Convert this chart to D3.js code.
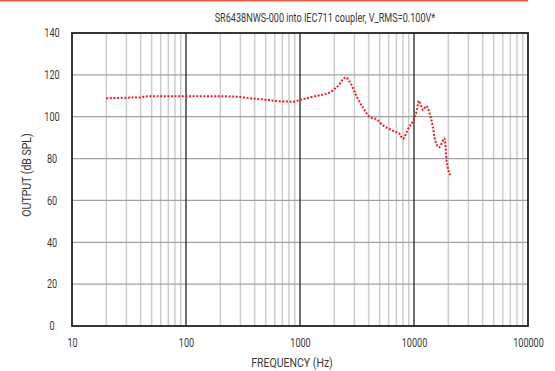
<!DOCTYPE html>
<html>
<head>
<meta charset="utf-8">
<script src="https://cdn.jsdelivr.net/npm/d3@7"></script>
<style>
  html, body { margin: 0; padding: 0; background: #fff; }
  svg { display: block; }
  text { font-family: "Roboto", "Liberation Sans", sans-serif; fill: #3a3a3a; }
</style>
</head>
<body>
<svg id="chart" width="555" height="371"></svg>
<script>
// Frequency response (Hz -> dB SPL)
const freqs = [20, 30, 40, 44, 60, 100, 150, 243, 400, 600, 668, 870, 1000, 1300, 1830, 2150, 2520, 2730, 3150, 3600, 4120, 4700, 5400, 6600, 7500, 8000, 8900, 9900, 10600, 11000, 11500, 12000, 12800, 13700, 14600, 15300, 16600, 17500, 18400, 18800, 19300, 20800];
const spl   = [108.8, 109.1, 109.2, 109.7, 109.8, 109.8, 109.8, 109.7, 108.6, 107.6, 107.3, 107.2, 108.0, 109.6, 111.7, 114.7, 118.8, 116.7, 109.6, 104.0, 99.7, 98.7, 95.7, 93.2, 91.7, 89.4, 94.4, 98.4, 103.2, 107.6, 105.6, 103.2, 105.1, 101.6, 95.4, 88.9, 85.4, 87.3, 89.7, 87.3, 79.3, 72.1];

const xTicks = [10, 100, 1000, 10000, 100000];
const yTicks = [0, 20, 40, 60, 80, 100, 120, 140];
const title = "SR6438NWS-000 into IEC711 coupler, V_RMS=0.100V*";
const xTitle = "FREQUENCY (Hz)";
const yTitle = "OUTPUT (dB SPL)";

const svg = d3.select("#chart");
const m = { left: 72, right: 528, top: 33, bottom: 326 };

// squeeze a text element horizontally about its own anchor point
function condense(sel, k = 0.76) {
  sel.each(function () {
    const t = d3.select(this);
    const ax = +(t.attr("x") || 0), ay = +(t.attr("y") || 0);
    const prev = t.attr("transform") || "";
    t.attr("transform", `${prev} translate(${ax},${ay}) scale(${k},1) translate(${-ax},${-ay})`);
  });
}

const x = d3.scaleLog().domain([10, 100000]).range([m.left, m.right]);
const y = d3.scaleLinear().domain([0, 140]).range([m.bottom, m.top]);

// accent rule across the top
svg.append("line")
  .attr("x1", 0).attr("x2", 528).attr("y1", 0.5).attr("y2", 0.5)
  .attr("stroke", "#e0603e").attr("stroke-width", 2);

// minor vertical grid (2..9 in each decade)
const minor = [];
for (let d = 10; d < 100000; d *= 10) for (let k = 2; k <= 9; k++) minor.push(d * k);
svg.append("g").selectAll("line").data(minor).join("line")
  .attr("x1", d => x(d)).attr("x2", d => x(d))
  .attr("y1", m.top).attr("y2", m.bottom)
  .attr("stroke", "#cdcdcd").attr("stroke-width", 1.5);

// horizontal grid
svg.append("g").selectAll("line").data(yTicks.slice(1, -1)).join("line")
  .attr("x1", m.left).attr("x2", m.right)
  .attr("y1", d => y(d)).attr("y2", d => y(d))
  .attr("stroke", "#a3a3a3").attr("stroke-width", 1.2);

// decade lines
svg.append("g").selectAll("line").data(xTicks.slice(1, -1)).join("line")
  .attr("x1", d => x(d)).attr("x2", d => x(d))
  .attr("y1", m.top).attr("y2", m.bottom)
  .attr("stroke", "#222").attr("stroke-width", 1.3);

// frame
svg.append("rect")
  .attr("x", m.left).attr("y", m.top)
  .attr("width", m.right - m.left).attr("height", m.bottom - m.top)
  .attr("fill", "none").attr("stroke", "#222").attr("stroke-width", 1.8);

// response curve
const pts = freqs.map((f, i) => [f, spl[i]]);
svg.append("path")
  .datum(pts)
  .attr("fill", "none")
  .attr("stroke", "#ee1c2a")
  .attr("stroke-width", 2)
  .attr("stroke-dasharray", "2,1.6")
  .attr("d", d3.line().x(d => x(d[0])).y(d => y(d[1])).curve(d3.curveMonotoneX));

// x tick labels
const xAxis = d3.axisBottom(x).tickValues(xTicks).tickFormat(d3.format("d")).tickSize(0).tickPadding(12);
svg.append("g").attr("transform", `translate(0,${m.bottom})`).call(xAxis)
  .call(g => g.select(".domain").remove())
  .selectAll("text").attr("font-size", 12).attr("fill", "#3a3a3a")
  .attr("font-family", "Roboto, sans-serif").call(condense);

// y tick labels, centred in a column left of the frame
const yAxis = d3.axisLeft(y).tickValues(yTicks).tickSize(0).tickPadding(20);
svg.append("g").attr("transform", `translate(${m.left},0)`).call(yAxis)
  .call(g => g.select(".domain").remove())
  .selectAll("text").attr("font-size", 12).attr("fill", "#3a3a3a")
  .attr("text-anchor", "middle")
  .attr("font-family", "Roboto, sans-serif").call(condense);

svg.append("text").attr("x", 325).attr("y", 22).attr("text-anchor", "middle")
  .attr("font-size", 12).text(title).call(condense);
svg.append("text").attr("x", 292).attr("y", 367).attr("text-anchor", "middle")
  .attr("font-size", 13).text(xTitle).call(condense, 0.81);
svg.append("text").attr("x", 0).attr("y", 0)
  .attr("transform", `translate(31,175) rotate(-90) scale(0.81,1)`)
  .attr("text-anchor", "middle").attr("font-size", 13).text(yTitle);
</script>
</body>
</html>
